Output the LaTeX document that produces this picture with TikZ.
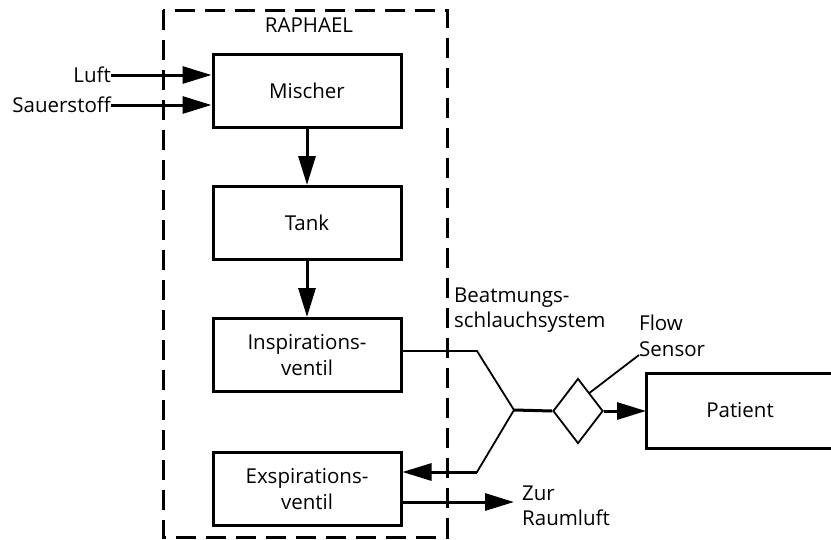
\documentclass[tikz,border=0pt]{standalone}
\usepackage{fontspec}
\setmainfont{Open Sans}
\usetikzlibrary{arrows.meta,shapes.geometric}
\begin{document}
\begin{tikzpicture}[x=1pt,y=-1pt,
  txt/.style={font=\fontsize{20.5}{25.5}\selectfont},
  box/.style={draw,line width=3pt,minimum width=188pt,minimum height=73pt,align=center,txt,inner sep=0pt},
  lbl/.style={txt,inner sep=0pt,align=left},
  flow/.style={line width=3pt,-{Triangle[length=29pt,width=17pt]}},
  tube/.style={line width=1.8pt},
  frame/.style={line width=3pt,dash pattern=on 20pt off 10pt}]
\useasboundingbox (0,0) rectangle (831,539);
\draw[frame] (163,10) rectangle (447,537);
\node[lbl,anchor=center] (raph) at (309,25) {RAPHAEL};
\node[box] (mix) at (307,90.5) {Mischer};
\node[box] (tank) at (307,223) {Tank};
\node[box] (insp) at (307,355) {Inspirations-\\ventil};
\node[box] (exsp) at (307,489) {Exspirations-\\ventil};
\node[lbl,anchor=center,minimum height=75pt] (pat) at (740,410.5) {Patient};
\coordinate (pnw) at (646,373);
\coordinate (psw) at (646,448);
\draw[line width=3pt] (pnw) ++(200,0) -- (pnw) -- (psw) -- ++(200,0);
\node[draw,diamond,line width=1.8pt,minimum width=50pt,minimum height=65pt,inner sep=0pt,aspect=0.77] (fs) at (578,411) {};
\node[lbl,anchor=east] (luft) at (111,75) {Luft};
\node[lbl,anchor=east] (o2) at (111,105) {Sauerstoff};
\node[lbl,anchor=west] (beat) at (454,310) {Beatmungs-\\schlauchsystem};
\node[lbl,anchor=west] (fstxt) at (639,336) {Flow\\Sensor};
\node[lbl,anchor=west] (zur) at (522,506) {Zur\\Raumluft};
\coordinate (j) at (514,410);
\coordinate (a1) at (477,351);
\coordinate (a2) at (477,472);
\coordinate (zt) at (514,502);
\draw[flow] (luft.east) -- (mix.west |- luft.east);
\draw[flow] (o2.east) -- (mix.west |- o2.east);
\draw[flow] (mix.south) -- (tank.north);
\draw[flow] (tank.south) -- (insp.north);
\draw[tube] (insp.east |- a1) -- (a1) -- (j) -- (a2) -- (476,472);
\draw[flow] (477,472) -- (exsp.east |- a2);
\draw[line width=3pt] (j) -- (fs.west);
\draw[flow] (fs.east) -- (pnw |- fs.east);
\draw[tube] (fs.north east) ++(-2,-1) -- (fstxt.west |- 0,355);
\draw[flow] (exsp.east |- zt) -- (zt);
\end{tikzpicture}
\end{document}
